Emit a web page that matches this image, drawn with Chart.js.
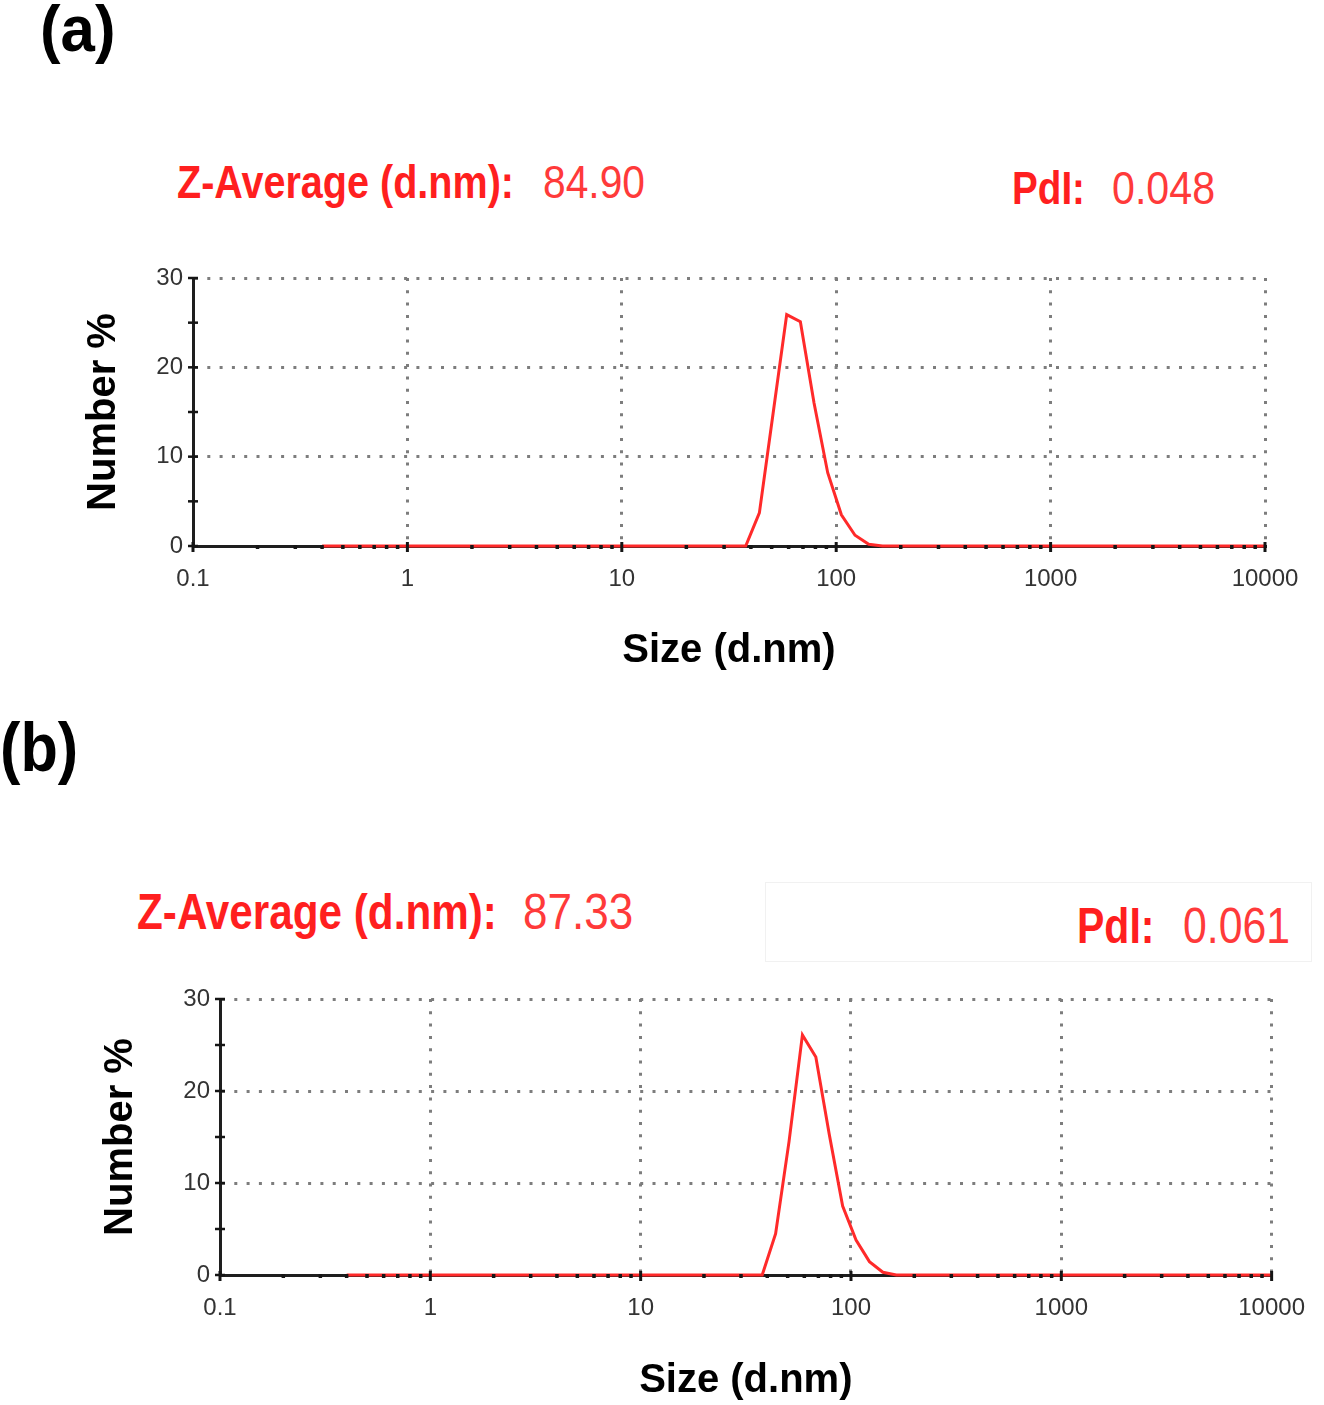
<!DOCTYPE html>
<html><head><meta charset="utf-8">
<script src="https://cdn.jsdelivr.net/npm/chart.js@4.4.0/dist/chart.umd.min.js"></script>
<style>
html,body{margin:0;padding:0;background:#fff;}
#page{position:relative;width:1324px;height:1405px;overflow:hidden;font-family:"Liberation Sans",Arial,sans-serif;}
.t{position:absolute;line-height:1;white-space:nowrap;transform-origin:0 0;}
.b{font-weight:bold;}
.red{color:#ff1f1f;}
.val{color:#ff3a3a;}
canvas{position:absolute;left:0;}
.box{position:absolute;border:1px solid #f1f1f1;}
</style></head><body>
<div id="page">
  <div class="t b" style="left:40px;top:-4px;font-size:65px;transform:scaleX(0.95)">(a)</div>
  <div class="t b red" style="left:177px;top:159px;font-size:46px;transform:scaleX(0.86)">Z-Average (d.nm):</div>
  <div class="t val" style="left:543px;top:159px;font-size:46px;transform:scaleX(0.886)">84.90</div>
  <div class="t b red" style="left:1012px;top:165px;font-size:46px;transform:scaleX(0.84)">PdI:</div>
  <div class="t val" style="left:1112px;top:165px;font-size:46px;transform:scaleX(0.895)">0.048</div>

  <div class="t b" style="left:0px;top:713px;font-size:68px;transform:scaleX(0.9)">(b)</div>
  <div class="box" style="left:765px;top:882px;width:545px;height:78px"></div>
  <div class="t b red" style="left:137px;top:887px;font-size:50px;transform:scaleX(0.845)">Z-Average (d.nm):</div>
  <div class="t val" style="left:523px;top:887px;font-size:50px;transform:scaleX(0.88)">87.33</div>
  <div class="t b red" style="left:1077px;top:901px;font-size:50px;transform:scaleX(0.82)">PdI:</div>
  <div class="t val" style="left:1183px;top:901px;font-size:50px;transform:scaleX(0.855)">0.061</div>

  <canvas id="chartA" width="1324" height="460" style="top:230px"></canvas>
  <canvas id="chartB" width="1324" height="455" style="top:950px"></canvas>
</div>
<script>
// Size bins (d.nm) and Number % values
const sizeBins = [0.4, 37.84, 43.82, 50.75, 58.77, 68.06, 78.82, 91.28, 105.7, 122.4, 141.8, 164.2, 10000];
const numberA  = [0,   0,     3.7,   14.8,  25.9,  25.1,  16.0,  8.2,   3.5,   1.2,   0.2,   0,     0];
const numberB  = [0,   0,     4.5,   14.5,  26.1,  23.7,  15.3,  7.5,   3.8,   1.45,  0.3,   0,     0];

const xMajorTicks  = [0.1, 1, 10, 100, 1000, 10000];
const xMajorLabels = ['0.1', '1', '10', '100', '1000', '10000'];
const xMinorSteps  = [2, 3, 4, 5, 6, 7, 8, 9];
const yTickStep    = 5;
const yLabelTicks  = [0, 10, 20, 30];
const yGridTicks   = [10, 20, 30];

const xTickValues = [];
xMajorTicks.forEach((d, i) => {
  xTickValues.push(d);
  if (i < xMajorTicks.length - 1) xMinorSteps.forEach(m => xTickValues.push(m * d));
});

const FONT = 'Liberation Sans';
const GRID = '#7d7d7d';

const tickMarks = {
  id: 'tickMarks',
  afterDatasetsDraw(chart) {
    const {ctx, chartArea, scales: {x, y}} = chart;
    ctx.save();
    ctx.strokeStyle = '#151515';
    x.ticks.forEach(t => {
      const px = x.getPixelForValue(t.value);
      const major = xMajorTicks.includes(t.value);
      const h = major ? 5 : 2;
      ctx.lineWidth = major ? 3 : 3.5;
      ctx.beginPath();
      ctx.moveTo(px, chartArea.bottom + 1 - h);
      ctx.lineTo(px, chartArea.bottom + 1 + h);
      ctx.stroke();
    });
    y.ticks.forEach(t => {
      const py = y.getPixelForValue(t.value);
      ctx.lineWidth = 2.5;
      ctx.beginPath();
      ctx.moveTo(chartArea.left - 5, py);
      ctx.lineTo(chartArea.left + 5, py);
      ctx.stroke();
    });
    ctx.restore();
  }
};

function makeChart(id, values, cfg) {
  return new Chart(document.getElementById(id), {
    type: 'line',
    data: {
      datasets: [{
        data: sizeBins.map((s, i) => ({x: s, y: values[i]})),
        borderColor: '#ff2a2a',
        borderWidth: 3,
        pointRadius: 0,
        tension: 0,
        fill: false,
        clip: false
      }]
    },
    options: {
      responsive: false,
      animation: false,
      devicePixelRatio: 1,
      layout: {padding: {top: cfg.top, right: cfg.right, left: 0, bottom: 0}},
      plugins: {legend: {display: false}, tooltip: {enabled: false}},
      scales: {
        x: {
          type: 'logarithmic',
          min: 0.1, max: 10000,
          afterBuildTicks: s => { s.ticks = xTickValues.map(v => ({value: v})); },
          afterFit: s => { s.height = cfg.xh; },
          grid: {
            drawTicks: false,
            lineWidth: 3,
            color: c => (c.tick && xMajorTicks.includes(c.tick.value)) ? GRID : 'rgba(0,0,0,0)'
          },
          border: {display: true, color: '#1e1e1e', width: 3, dash: [3, 9.3]},
          ticks: {
            autoSkip: false, maxRotation: 0, minRotation: 0, padding: 19,
            color: '#333', font: {family: FONT, size: 24},
            callback: v => { const i = xMajorTicks.indexOf(v); return i >= 0 ? xMajorLabels[i] : ''; }
          },
          title: {
            display: true, text: 'Size (d.nm)', color: '#000',
            font: {family: FONT, size: 40, weight: 'bold'},
            padding: {top: 0, bottom: cfg.xtPad}
          }
        },
        y: {
          type: 'linear',
          min: 0, max: 30,
          afterFit: s => { s.width = cfg.yw; },
          grid: {
            drawTicks: false,
            lineWidth: 3,
            color: c => (c.tick && yGridTicks.includes(c.tick.value)) ? GRID : 'rgba(0,0,0,0)'
          },
          border: {display: true, color: '#1e1e1e', width: 3, dash: [3, 9.3]},
          ticks: {
            stepSize: yTickStep, padding: 10,
            color: '#333', font: {family: FONT, size: 24},
            callback: v => yLabelTicks.includes(v) ? String(v) : ''
          },
          title: {
            display: true, text: 'Number %', color: '#000',
            font: {family: FONT, size: 40, weight: 'bold'},
            padding: {top: cfg.ytPad, bottom: 0}
          }
        }
      }
    },
    plugins: [tickMarks]
  });
}

makeChart('chartA', numberA, {top: 48, right: 59, xh: 144, yw: 193, xtPad: 15, ytPad: 80});
makeChart('chartB', numberB, {top: 49, right: 50, xh: 130, yw: 220, xtPad: 0, ytPad: 97});
</script>
</body></html>
